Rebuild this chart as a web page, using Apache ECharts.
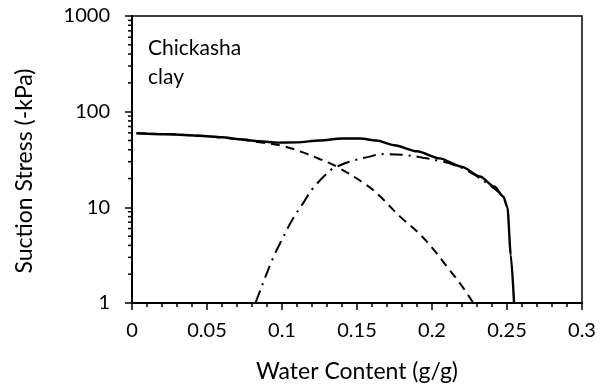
<!DOCTYPE html>
<html>
<head>
<meta charset="utf-8">
<script src="https://cdn.jsdelivr.net/npm/echarts@6.0.0/dist/echarts.min.js"></script>
<style>
  html, body { margin: 0; padding: 0; background: #fff; }
  #chart { width: 606px; height: 392px; }
</style>
</head>
<body>
<div id="chart"></div>
<script>
// Suction stress characteristic curves for Chickasha clay
// [water content (g/g), suction stress (-kPa)]

// total suction stress (solid)
const totalCurve = [
  [0.003, 59.5], [0.025, 58], [0.045, 56], [0.06, 54], [0.072, 51.5],
  [0.085, 49], [0.097, 47.5], [0.11, 47.8], [0.125, 50], [0.14, 52.5],
  [0.152, 52.5], [0.163, 50], [0.175, 44.5], [0.19, 38.5], [0.205, 32.5],
  [0.22, 26.5], [0.232, 21], [0.2415, 16.5], [0.2475, 13], [0.2503, 10],
  [0.2525, 3.2], [0.2547, 1]
];

// adsorptive component (dashed)
const adsorptiveCurve = [
  [0.003, 59.5], [0.025, 58], [0.045, 56], [0.06, 53.5], [0.072, 51],
  [0.085, 48], [0.1, 44], [0.112, 38.5], [0.125, 32], [0.1365, 26.6],
  [0.1564, 17.1], [0.165, 13.2], [0.1787, 8.0], [0.19, 5.6], [0.2, 3.8],
  [0.21, 2.4], [0.22, 1.5], [0.2275, 1.0]
];

// capillary component (dash-dot)
const capillaryCurve = [
  [0.0824, 1.0], [0.0842, 1.2], [0.0942, 3.0], [0.1, 4.6], [0.1064, 7.2],
  [0.114, 11], [0.1209, 16], [0.1331, 25], [0.1365, 26.6], [0.145, 30],
  [0.157, 33.5], [0.168, 36], [0.18, 35.5], [0.194, 33], [0.205, 30.5],
  [0.214, 28], [0.225, 23.5], [0.2364, 18], [0.2455, 14]
];

// axis ranges and ticks
const xRange = [0, 0.3];
const xStep = 0.05;
const yRange = [1, 1000];
const yMinorTicks = [2, 3, 4, 5, 6, 7, 8, 9, 20, 30, 40, 50, 60, 70, 80, 90,
                     200, 300, 400, 500, 600, 700, 800, 900];

const FONT = 'Lato';
const chart = echarts.init(document.getElementById('chart'), null, { renderer: 'canvas' });

chart.setOption({
  animation: false,
  backgroundColor: '#fff',
  grid: {
    left: 132, top: 16, width: 450, height: 287,
    show: true, borderColor: '#000', borderWidth: 1.5, backgroundColor: 'transparent'
  },
  xAxis: {
    type: 'value', min: xRange[0], max: xRange[1], interval: xStep,
    axisLine: { show: true, onZero: false, lineStyle: { color: '#000', width: 2 } },
    axisTick: { show: true, inside: false, length: 7, lineStyle: { color: '#000', width: 1.5 } },
    minorTick: { show: true, splitNumber: 5, length: 4, lineStyle: { color: '#000', width: 1.5 } },
    splitLine: { show: false },
    axisLabel: {
      margin: 18, color: '#000', fontFamily: FONT, fontSize: 20,
      formatter: v => String(+v.toFixed(2))
    }
  },
  yAxis: {
    type: 'log', logBase: 10, min: yRange[0], max: yRange[1], splitNumber: 3,
    axisLine: { show: true, lineStyle: { color: '#000', width: 2 } },
    axisTick: { show: true, inside: false, length: 7, lineStyle: { color: '#000', width: 1.5 } },
    splitLine: { show: false },
    axisLabel: {
      margin: 22, color: '#000', fontFamily: FONT, fontSize: 20,
      formatter: v => String(Math.round(v))
    }
  },
  graphic: [
    {
      type: 'text', left: 148, top: 34,
      style: { text: 'Chickasha\nclay', font: '21px ' + FONT, fill: '#000', lineHeight: 29 }
    },
    {
      type: 'text', x: 357, y: 372,
      style: { text: 'Water Content (g/g)', font: '23px ' + FONT, fill: '#000',
               align: 'center', verticalAlign: 'middle' }
    },
    {
      type: 'text', x: 25, y: 171, rotation: Math.PI / 2,
      style: { text: 'Suction Stress (-kPa)', font: '23px ' + FONT, fill: '#000',
               align: 'center', verticalAlign: 'middle' }
    }
  ],
  series: [
    {
      name: 'total', type: 'line', data: totalCurve, showSymbol: false,
      smooth: 0.25, smoothMonotone: 'x',
      lineStyle: { color: '#000', width: 2.4, type: 'solid' }, z: 3
    },
    {
      name: 'adsorptive', type: 'line', data: adsorptiveCurve, showSymbol: false,
      smooth: 0.4,
      lineStyle: { color: '#000', width: 2, type: [9, 6] }, z: 2
    },
    {
      name: 'capillary', type: 'line', data: capillaryCurve, showSymbol: false,
      smooth: 0.4,
      lineStyle: { color: '#000', width: 2, type: [13, 6, 2, 6] }, z: 2
    },
    {
      // log-spaced minor ticks on the suction axis
      name: 'yMinor', type: 'custom', silent: true, clip: false,
      data: yMinorTicks.map(v => [xRange[0], v]),
      renderItem: function (params, api) {
        const p = api.coord([api.value(0), api.value(1)]);
        return {
          type: 'line',
          shape: { x1: p[0] - 4, y1: p[1], x2: p[0], y2: p[1] },
          style: { stroke: '#000', lineWidth: 1.5 }
        };
      },
      z: 5
    }
  ]
});
</script>
</body>
</html>
